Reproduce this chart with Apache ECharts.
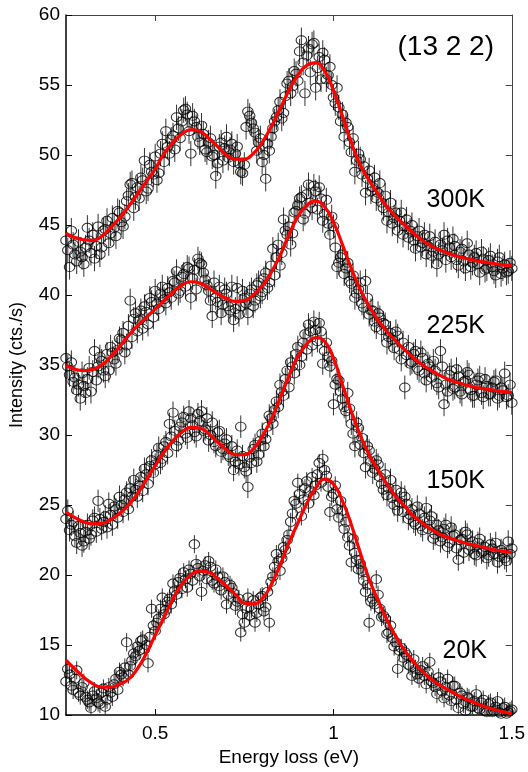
<!DOCTYPE html>
<html>
<head>
<meta charset="utf-8">
<script src="https://cdn.jsdelivr.net/npm/echarts@6/dist/echarts.min.js"></script>
<style>
  html, body { margin: 0; padding: 0; background: #fff; }
  #chart { width: 528px; height: 772px; }
</style>
</head>
<body>
<div id="chart"></div>
<script>
// measured spectra: main grid 0.25 .. 1.50 eV (0.01 steps), in-between grid 0.255 .. 1.495 eV
var E_START = 0.25, E_MID_START = 0.255, E_STEP = 0.01;
var FIT_START = 0.25, FIT_STEP = 0.025;

var d300 = [43.9,42.0,43.6,42.4,43.1,42.2,44.8,43.0,42.6,44.9,43.4,44.7,43.7,45.5,44.2,45.9,44.9,46.7,47.9,46.2,
  47.7,48.4,49.6,47.6,48.8,49.9,48.7,50.8,51.7,50.1,51.4,52.7,51.2,53.2,52.9,50.1,52.4,51.3,52.1,50.4,
  50.9,49.9,48.5,50.6,49.6,51.3,50.4,49.5,50.6,48.8,49.3,53.1,52.3,51.6,50.9,49.5,48.3,50.3,51.9,52.7,
  53.8,53.0,55.1,54.4,56.0,55.3,58.2,54.4,57.6,57.9,54.8,57.0,57.3,55.4,56.3,54.1,54.8,52.4,51.3,52.0,
  50.2,48.8,50.1,48.6,47.3,48.9,47.7,46.9,48.0,46.2,45.3,46.6,45.5,44.6,45.9,44.9,44.1,45.0,43.3,44.6,
  43.7,42.9,44.2,43.1,42.2,43.6,44.3,43.9,42.7,43.5,42.1,43.3,41.9,42.9,42.3,43.0,41.6,42.6,41.9,42.8,
  41.7,42.4,41.5,42.2,41.7,41.9];
var d300mid = [43.2,44.6,42.9,43.8,42.7,43.4,43.9,44.3,43.5,42.9,
  44.6,45.3,44.4,44.8,46.0,45.2,45.6,47.1,48.0,47.0,
  46.9,48.2,47.4,49.3,48.6,48.2,50.1,49.5,50.6,51.1,
  50.4,51.9,52.4,53.3,51.7,52.8,52.0,50.9,51.5,50.2,
  51.2,50.0,49.4,50.9,50.5,49.8,50.8,50.1,49.4,48.7,
  52.0,52.8,51.9,50.3,51.2,50.0,50.8,51.3,52.4,53.2,
  52.6,54.2,55.3,54.9,55.8,57.4,56.6,57.1,55.9,58.0,
  56.2,55.4,56.8,55.7,55.0,53.7,53.4,52.9,52.3,50.9,
  51.2,49.6,49.7,49.2,48.3,47.4,48.4,47.3,46.6,47.1,
  45.9,45.1,45.9,45.3,44.3,45.4,44.6,43.9,44.2,43.4,
  44.3,43.5,42.8,43.8,42.9,43.2,42.5,43.4,44.0,42.5,
  43.1,42.4,43.7,42.0,42.7,42.2,43.1,41.8,42.5,42.0,
  41.4,42.7,41.9,41.6,42.3];
var d225 = [35.5,34.3,33.8,33.2,32.6,33.5,34.0,33.1,36.0,34.9,35.3,34.2,34.6,35.9,35.1,36.9,37.3,36.4,39.6,38.3,
  37.4,38.9,39.2,37.9,39.5,40.3,39.0,40.6,39.4,40.2,41.0,41.7,40.3,41.5,42.0,39.8,41.8,42.6,42.2,41.1,
  40.3,38.5,39.8,40.6,39.3,40.1,38.9,38.2,40.5,39.2,39.8,38.7,40.4,39.6,40.9,40.2,41.6,40.9,43.3,42.7,
  42.1,45.4,44.3,43.6,45.9,46.4,47.0,45.8,47.9,46.2,47.4,47.7,45.3,46.8,44.3,44.9,42.0,42.7,41.5,42.3,
  40.8,39.8,40.4,39.4,41.0,38.6,38.9,37.7,38.4,38.0,36.6,37.3,36.2,37.1,35.4,33.4,36.3,35.2,36.0,34.6,
  35.5,33.9,34.9,35.3,33.7,36.0,32.2,33.1,34.6,33.4,34.2,32.9,33.9,34.3,32.8,33.6,34.1,32.7,33.5,32.9,
  33.8,32.6,33.4,34.4,32.8,32.3];
var d225mid = [34.9,35.2,34.1,33.6,34.4,33.0,34.8,34.5,33.9,35.6,
  34.6,35.8,36.3,35.4,36.1,36.8,35.9,37.8,37.0,38.7,
  38.2,37.6,38.8,39.8,38.4,39.4,40.1,39.7,40.5,39.8,
  40.9,40.1,41.3,40.6,41.9,41.2,40.4,42.3,41.6,40.7,
  39.6,40.9,39.5,38.7,40.4,39.2,40.6,39.0,38.6,40.3,
  39.4,40.1,39.2,40.7,39.9,41.2,40.5,42.1,41.4,43.6,
  43.0,44.6,44.9,44.4,46.0,46.9,45.4,47.2,46.6,47.8,
  46.1,46.9,45.8,45.1,45.6,43.4,42.3,42.9,41.9,41.0,
  41.4,40.1,40.9,39.1,39.8,38.9,38.1,38.7,37.5,37.9,
  37.0,36.8,37.4,36.1,36.6,35.7,35.1,35.8,34.8,35.9,
  34.4,35.1,34.1,34.6,33.4,34.9,33.6,34.3,33.3,34.7,
  33.1,33.8,34.5,33.2,32.8,33.9,33.0,34.0,32.9,33.4,
  33.9,32.8,33.2,32.7,33.6];
var d150 = [24.0,23.2,23.8,22.3,23.0,22.4,23.6,22.9,24.1,25.3,23.3,24.2,25.1,23.6,24.7,25.6,24.5,25.9,26.2,26.8,
  25.6,27.0,27.6,26.5,28.2,27.9,29.1,28.3,29.5,30.8,31.6,29.2,30.6,31.3,29.8,31.2,30.2,31.5,31.7,30.4,
  29.6,30.9,29.2,30.3,29.0,29.7,28.4,27.5,28.9,30.6,27.7,26.3,28.0,29.3,28.6,30.1,29.7,31.4,30.8,32.4,
  33.6,32.8,34.6,35.2,34.4,36.3,35.6,37.2,37.9,36.4,37.5,38.0,35.1,36.6,34.9,32.2,34.0,33.1,32.0,33.0,
  30.8,29.2,30.5,29.8,27.7,28.9,27.3,28.2,27.0,26.1,25.7,26.8,25.0,24.6,25.9,25.6,24.0,24.7,23.6,24.4,
  23.2,24.8,23.9,22.6,23.6,22.4,23.3,22.0,23.4,22.9,21.1,22.6,23.1,21.8,22.4,21.4,22.6,21.7,21.2,22.2,
  21.5,20.9,21.8,21.2,22.4,21.9];
var d150mid = [24.6,23.6,22.8,23.5,22.1,23.1,22.6,23.9,23.1,24.0,
  23.8,23.4,24.3,24.9,24.1,25.0,25.4,24.7,25.6,26.1,
  26.4,26.0,27.2,27.8,27.3,28.6,28.0,29.2,28.7,29.9,
  30.3,29.6,30.9,30.1,31.7,30.7,29.9,31.0,30.3,31.2,
  30.0,29.5,30.2,28.8,29.4,28.6,29.2,28.1,27.9,28.5,
  27.4,28.4,29.0,28.1,29.6,29.2,30.6,31.2,31.8,32.0,
  33.1,34.0,33.4,34.9,35.8,35.0,36.6,36.1,37.4,38.1,
  36.7,37.4,36.0,35.6,35.3,33.6,33.9,32.6,31.7,31.9,
  30.1,30.9,29.3,28.7,29.2,28.1,27.6,27.9,26.5,27.2,
  26.2,25.5,26.1,25.2,24.5,25.1,24.3,23.8,24.9,23.5,
  24.1,23.3,24.2,22.9,23.2,22.7,23.6,22.3,22.8,21.9,
  22.5,21.6,22.9,22.1,21.5,22.3,21.6,22.0,21.4,21.9,
  22.3,21.3,21.6,21.0,21.5];
var d20 = [12.4,12.9,11.8,13.2,11.4,12.3,11.1,10.5,11.7,10.9,11.6,10.6,12.0,11.3,12.6,13.1,12.7,15.2,13.5,14.4,
  14.9,15.3,14.7,13.7,17.6,16.0,16.9,18.4,17.5,18.3,19.4,18.6,19.8,20.2,19.1,20.1,22.2,20.5,18.8,20.7,
  21.0,19.6,20.4,19.2,19.9,17.9,19.3,18.7,18.1,15.9,16.6,18.4,17.6,16.6,17.9,18.5,17.7,16.6,19.9,21.5,
  20.3,22.0,22.5,23.8,25.3,26.6,24.2,26.2,25.1,27.0,26.4,28.0,28.3,27.1,24.5,25.8,24.7,25.3,23.3,22.7,
  20.9,21.6,20.4,20.3,18.8,16.6,18.3,19.7,17.6,17.1,15.8,16.4,14.9,13.3,14.8,14.5,13.6,12.8,13.3,12.6,
  13.5,12.2,13.8,12.3,11.5,12.4,11.2,12.6,11.0,12.1,10.5,11.4,10.3,11.2,10.6,11.5,10.4,11.1,10.2,10.9,
  10.3,11.0,10.1,10.6,10.2,10.4];
var d20mid = [13.3,12.1,12.6,11.6,12.0,11.3,10.9,11.4,11.2,10.8,
  11.9,11.1,11.6,12.2,11.8,12.9,13.4,12.9,13.9,14.2,
  14.6,15.4,15.0,15.6,16.4,16.6,17.6,17.2,18.1,17.9,
  18.9,19.5,19.0,19.7,20.4,19.6,20.8,19.9,20.3,19.7,
  20.6,19.4,19.9,18.9,19.5,18.6,19.1,17.8,18.3,17.2,
  17.6,17.1,18.2,17.3,18.4,17.4,18.8,19.5,20.6,21.0,
  21.2,21.8,22.9,24.4,25.1,25.8,25.4,26.7,26.0,25.7,
  27.2,26.6,27.5,26.3,25.6,26.4,24.1,24.6,23.8,22.1,
  22.6,21.1,20.8,19.6,19.3,18.1,17.9,18.6,17.0,16.9,
  15.9,15.5,15.2,14.6,14.1,14.3,13.5,14.0,12.9,13.2,
  12.8,13.1,12.4,12.0,12.7,11.7,12.0,11.4,12.1,11.1,
  11.6,10.8,11.3,10.6,11.0,10.5,10.9,10.3,10.8,10.2,
  10.6,10.2,10.5,10.1,10.3];

// error bar half lengths (cts./s)
var err300 = 0.9, err225 = 0.85, err150 = 0.8, err20 = 0.65;

// fitted curves, grid 0.25 .. 1.50 eV in 0.025 steps
var fit300 = [44.4,44.1,43.95,43.9,44.2,44.8,45.5,46.3,47.2,48.1,49.0,50.1,50.9,51.5,51.8,51.7,51.2,50.6,50.0,49.7,
  49.7,50.1,50.9,52.0,53.3,54.6,55.7,56.4,56.6,56.0,54.6,52.8,50.9,49.3,48.2,47.2,46.3,45.6,45.0,44.4,
  43.9,43.5,43.2,42.95,42.75,42.6,42.45,42.35,42.25,42.15,42.08];
var fit225 = [35.0,34.7,34.6,34.7,35.0,35.6,36.3,37.1,37.8,38.4,39.0,39.6,40.2,40.7,40.95,40.85,40.5,40.1,39.75,39.55,
  39.6,40.0,40.65,41.6,42.8,44.3,45.6,46.4,46.7,46.3,45.2,43.6,41.9,40.4,39.2,38.2,37.4,36.7,36.1,35.5,
  35.0,34.6,34.25,33.95,33.75,33.55,33.4,33.3,33.2,33.1,33.05];
var fit150 = [24.5,24.1,23.8,23.65,23.7,23.95,24.4,25.0,25.8,26.8,27.8,28.8,29.6,30.2,30.55,30.5,30.1,29.5,28.95,28.6,
  28.6,29.0,29.9,31.1,32.6,34.2,35.6,36.5,36.95,36.7,35.5,33.6,31.7,30.0,28.6,27.5,26.5,25.6,24.9,24.2,
  23.7,23.25,22.9,22.65,22.45,22.25,22.1,21.95,21.8,21.7,21.6];
var fit20 = [13.9,13.3,12.7,12.25,12.0,12.0,12.2,12.55,13.3,14.4,15.7,17.0,18.3,19.35,20.0,20.3,20.2,19.75,19.2,18.6,
  18.0,17.95,18.3,19.3,20.7,22.3,23.7,25.1,26.2,26.85,26.5,25.3,23.6,21.6,19.7,18.2,16.8,15.6,14.6,13.8,
  13.1,12.55,12.1,11.75,11.4,11.1,10.85,10.6,10.4,10.25,10.1];

var tempLabels = ['300K', '225K', '150K', '20K'];
var peakLabel = '(13 2 2)';

var FONT = '"Liberation Sans", Arial, Helvetica, sans-serif';

function pairs(start, step, vals, extra) {
  return vals.map(function (v, i) {
    var x = +(start + i * step).toFixed(3);
    return extra === undefined ? [x, v] : [x, v, extra];
  });
}

// main grid + in-between grid merged into one list of points
function points(main, mid, extra) {
  return pairs(E_START, E_STEP, main, extra).concat(pairs(E_MID_START, E_STEP, mid, extra));
}

function errSeries(main, mid, e) {
  return {
    type: 'custom',
    clip: true,
    silent: true,
    z: 2,
    data: points(main, mid, e),
    encode: { x: 0, y: 1 },
    renderItem: function (params, api) {
      var x = api.value(0), y = api.value(1), h = api.value(2);
      var p1 = api.coord([x, y - h]);
      var p2 = api.coord([x, y + h]);
      return {
        type: 'line',
        shape: { x1: p1[0], y1: p1[1], x2: p2[0], y2: p2[1] },
        style: { stroke: '#333', lineWidth: 1 }
      };
    }
  };
}

function dotSeries(main, mid) {
  return {
    type: 'scatter',
    silent: true,
    z: 3,
    symbol: 'circle',
    symbolSize: [10.5, 9],
    itemStyle: { color: 'rgba(0,0,0,0)', borderColor: '#000', borderWidth: 1 },
    data: points(main, mid)
  };
}

function fitSeries(vals) {
  return {
    type: 'line',
    silent: true,
    z: 5,
    smooth: true,
    showSymbol: false,
    lineStyle: { color: '#ff0000', width: 3.2 },
    data: pairs(FIT_START, FIT_STEP, vals)
  };
}

var dom = document.getElementById('chart');
var myChart = echarts.init(dom, null, { renderer: 'canvas' });

var option = {
  animation: false,
  backgroundColor: '#fff',
  grid: { left: 66, right: 16, top: 15, bottom: 51, containLabel: false },
  xAxis: [
    {
      type: 'value', position: 'bottom', min: 0.25, max: 1.5, interval: 0.25,
      axisLine: { onZero: false, lineStyle: { color: '#000', width: 1.5 } },
      axisTick: { inside: true, length: 6, customValues: [0.5, 1, 1.5], lineStyle: { color: '#000' } },
      axisLabel: { customValues: [0.5, 1, 1.5], margin: 9, fontSize: 19, color: '#000', fontFamily: FONT },
      splitLine: { show: false },
      name: 'Energy loss (eV)', nameLocation: 'middle', nameGap: 31,
      nameTextStyle: { fontSize: 19, color: '#000', fontFamily: FONT }
    },
    {
      type: 'value', position: 'top', min: 0.25, max: 1.5, interval: 0.25,
      axisLine: { onZero: false, lineStyle: { color: '#444', width: 1 } },
      axisTick: { inside: true, length: 6, customValues: [0.5, 1], lineStyle: { color: '#444' } },
      axisLabel: { show: false },
      splitLine: { show: false }
    }
  ],
  yAxis: [
    {
      type: 'value', position: 'left', min: 10, max: 60, interval: 5,
      axisLine: { show: true, onZero: false, lineStyle: { color: '#000', width: 1.5 } },
      axisTick: { show: true, inside: true, length: 6, lineStyle: { color: '#000' } },
      axisLabel: { margin: 6, fontSize: 19, color: '#000', fontFamily: FONT },
      splitLine: { show: false },
      name: 'Intensity (cts./s)', nameLocation: 'middle', nameGap: 40,
      nameTextStyle: { fontSize: 18, color: '#000', fontFamily: FONT }
    },
    {
      type: 'value', position: 'right', min: 10, max: 60, interval: 5,
      axisLine: { show: true, onZero: false, lineStyle: { color: '#444', width: 1 } },
      axisTick: { show: true, inside: true, length: 6, lineStyle: { color: '#444' } },
      axisLabel: { show: false },
      splitLine: { show: false }
    }
  ],
  series: [
    errSeries(d300, d300mid, err300), errSeries(d225, d225mid, err225),
    errSeries(d150, d150mid, err150), errSeries(d20, d20mid, err20),
    dotSeries(d300, d300mid), dotSeries(d225, d225mid), dotSeries(d150, d150mid), dotSeries(d20, d20mid),
    fitSeries(fit300), fitSeries(fit225), fitSeries(fit150), fitSeries(fit20)
  ],
  graphic: [
    { type: 'text', z: 10, style: { x: 494, y: 47, text: peakLabel, align: 'right', verticalAlign: 'middle', font: '28px ' + FONT, fill: '#000' } },
    { type: 'text', z: 10, style: { x: 485, y: 200, text: tempLabels[0], align: 'right', verticalAlign: 'middle', font: '25px ' + FONT, fill: '#000' } },
    { type: 'text', z: 10, style: { x: 485, y: 326, text: tempLabels[1], align: 'right', verticalAlign: 'middle', font: '25px ' + FONT, fill: '#000' } },
    { type: 'text', z: 10, style: { x: 485, y: 481, text: tempLabels[2], align: 'right', verticalAlign: 'middle', font: '25px ' + FONT, fill: '#000' } },
    { type: 'text', z: 10, style: { x: 487, y: 651, text: tempLabels[3], align: 'right', verticalAlign: 'middle', font: '25px ' + FONT, fill: '#000' } }
  ]
};

myChart.setOption(option);
window.addEventListener('resize', myChart.resize);
</script>
</body>
</html>
